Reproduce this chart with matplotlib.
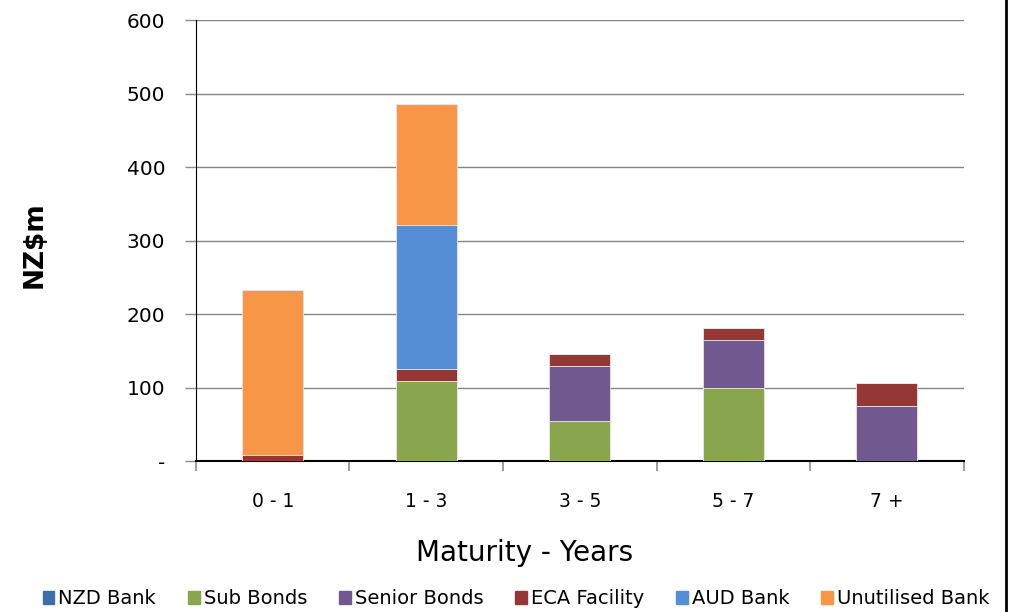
import matplotlib
matplotlib.use("Agg")
import matplotlib.pyplot as plt
from matplotlib.lines import Line2D
import numpy as np

categories = ["0 - 1", "1 - 3", "3 - 5", "5 - 7", "7 +"]
series_names = ["NZD Bank", "Sub Bonds", "Senior Bonds", "ECA Facility", "AUD Bank", "Unutilised Bank"]
nzd_bank = [0, 0, 0, 0, 0]
sub_bonds = [0, 109, 55, 100, 0]
senior_bonds = [0, 0, 74, 65, 75]
eca_facility = [8, 16, 16, 16, 31]
aud_bank = [0, 196, 0, 0, 0]
unutilised_bank = [225, 165, 0, 0, 0]
y_ticks = [0, 100, 200, 300, 400, 500, 600]
y_tick_labels = ["-", "100", "200", "300", "400", "500", "600"]

colors = ["#3F6FA8", "#89A54E", "#71588F", "#953735", "#558ED5", "#F79646"]
series = [nzd_bank, sub_bonds, senior_bonds, eca_facility, aud_bank, unutilised_bank]

plt.rcParams['font.family'] = ['DejaVu Sans']
fig = plt.figure(figsize=(10.10, 6.12), dpi=100)
ax = fig.add_axes([0.194, 0.2467, 0.760, 0.7206])

x = np.arange(len(categories))
bottom = np.zeros(len(categories))
handles = []
for name, vals, c in zip(series_names, series, colors):
    v = np.array(vals, dtype=float)
    ax.bar(x, v, width=0.4, bottom=bottom, color=c, edgecolor="#EDE3EA", linewidth=0.6, zorder=3)
    bottom += v
    handles.append(plt.Rectangle((0, 0), 1, 1, color=c))

ax.set_xlim(-0.5, 4.5)
ax.set_ylim(0, 600)
ax.set_yticks(y_ticks)
ax.set_yticklabels(y_tick_labels, fontsize=14.5)
ax.yaxis.grid(True, color="#858585", linewidth=1.0, zorder=0)
ax.set_xticks(x)
ax.set_xticklabels(categories, fontsize=13.5)
ax.tick_params(axis="x", which="major", length=0, pad=22)
ax.set_xticks(np.arange(-0.5, 5.0, 1.0), minor=True)
ax.tick_params(axis="x", which="minor", length=7, color="#8C8C8C", width=1.2)
ax.tick_params(axis="y", length=8, color="#8C8C8C", width=1.0, pad=14)
for s in ["top", "right"]:
    ax.spines[s].set_visible(False)
ax.spines["left"].set_color("black")
ax.spines["bottom"].set_color("black")
ax.spines["bottom"].set_linewidth(1.5)

fig.text(35 / 1010, 1 - 245 / 612, "NZ$m", fontsize=19, fontweight="bold", rotation=90,
         ha="center", va="center")
fig.text(525 / 1010, 1 - 553 / 612, "Maturity - Years", fontsize=20, ha="center", va="center")

fig.legend(handles, series_names, loc="center", bbox_to_anchor=(516 / 1010, 1 - 599 / 612), ncol=6,
           frameon=False, fontsize=14, handlelength=0.6, handleheight=0.6,
           handletextpad=0.2, columnspacing=1.65, borderpad=0)

fig.add_artist(Line2D([0.9965, 0.9965], [0, 1], color="black", linewidth=2.0, transform=fig.transFigure))

fig.savefig("out.png", dpi=100)
